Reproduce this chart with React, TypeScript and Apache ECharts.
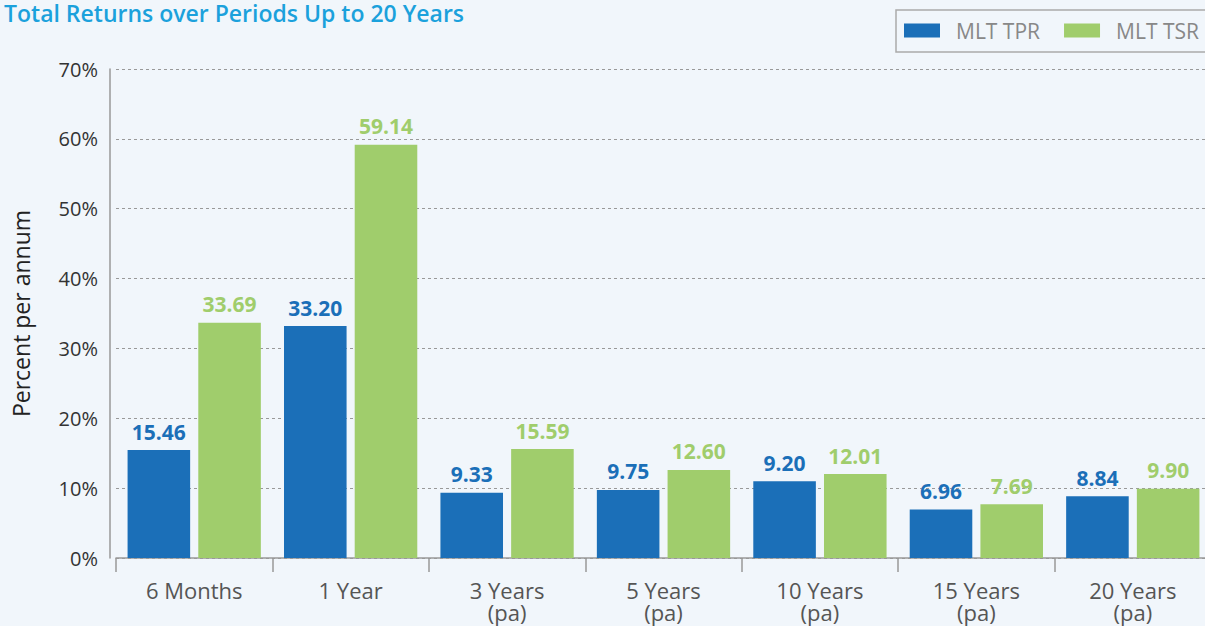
import React, { useEffect, useRef } from "react";
import * as echarts from "echarts";

const categories = [
  "6 Months",
  "1 Year",
  "3 Years\n(pa)",
  "5 Years\n(pa)",
  "10 Years\n(pa)",
  "15 Years\n(pa)",
  "20 Years\n(pa)",
];
const tprValues = [15.46, 33.2, 9.33, 9.75, 11.0, 6.96, 8.84];
const tprLabels = ["15.46", "33.20", "9.33", "9.75", "9.20", "6.96", "8.84"];
const tsrValues = [33.69, 59.14, 15.59, 12.6, 12.01, 7.69, 9.9];
const yTicks = [0, 10, 20, 30, 40, 50, 60, 70];

const TPR = "#1b6fb8";
const TSR = "#a0cd6c";
const FONT = "'Open Sans', 'Noto Sans', sans-serif";

export default function App() {
  const ref = useRef<HTMLDivElement>(null);
  useEffect(() => {
    document.body.style.margin = "0";
    const chart = echarts.init(ref.current!, null, { renderer: "svg" });
    chart.setOption({
      animation: false,
      backgroundColor: "#f1f6fb",
      textStyle: { fontFamily: FONT },
      title: {
        text: "Total Returns over Periods Up to 20 Years",
        left: 4,
        top: 1,
        padding: 0,
        textStyle: { fontSize: 23, fontWeight: 600, color: "#1ba1dc", fontFamily: FONT },
      },
      legend: {
        orient: "horizontal",
        left: 896,
        top: 10,
        width: 340,
        padding: [10, 20, 11, 8],
        borderColor: "#aaa",
        borderWidth: 1.5,
        itemWidth: 36,
        itemHeight: 14,
        itemGap: 24,
        icon: "rect",
        textStyle: { fontSize: 21, color: "#888", padding: [0, 0, 0, 11], fontFamily: FONT },
        data: ["MLT TPR", "MLT TSR"],
      },
      grid: {
        left: 116,
        right: -6,
        top: 69,
        bottom: 68,
        containLabel: false,
        outerBoundsMode: "none",
      },
      xAxis: {
        type: "category",
        data: categories,
        axisLine: { lineStyle: { color: "#999", width: 1.5 } },
        axisTick: { show: true, length: 14, lineStyle: { color: "#999", width: 1.5 } },
        axisLabel: { fontSize: 22, color: "#555", lineHeight: 22, margin: 21, fontFamily: FONT },
      },
      yAxis: {
        type: "value",
        min: yTicks[0],
        max: yTicks[yTicks.length - 1],
        interval: 10,
        offset: 6,
        name: "Percent per annum",
        nameLocation: "middle",
        nameRotate: 90,
        nameGap: 78,
        nameTextStyle: { fontSize: 23, color: "#222", fontFamily: FONT },
        axisLine: { show: true, lineStyle: { color: "#999", width: 1.5 } },
        axisTick: { show: false },
        axisLabel: { formatter: "{value}%", fontSize: 20, color: "#333", margin: 12, fontFamily: FONT },
        splitLine: { show: true, lineStyle: { color: "#999", type: [3, 3], width: 1 } },
      },
      series: [
        {
          name: "MLT TPR",
          type: "bar",
          data: tprValues,
          barWidth: "40%",
          barGap: "13%",
          itemStyle: { color: TPR },
          label: {
            show: true,
            position: "top",
            distance: 8,
            fontSize: 21,
            fontWeight: "bold",
            color: TPR,
            fontFamily: FONT,
            formatter: (p: any) => tprLabels[p.dataIndex],
          },
        },
        {
          name: "MLT TSR",
          type: "bar",
          data: tsrValues,
          barWidth: "40%",
          itemStyle: { color: TSR },
          label: {
            show: true,
            position: "top",
            distance: 8,
            fontSize: 21,
            fontWeight: "bold",
            color: TSR,
            fontFamily: FONT,
            formatter: (p: any) => Number(p.value).toFixed(2),
          },
        },
      ],
    });
    return () => chart.dispose();
  }, []);
  return <div ref={ref} style={{ width: 1205, height: 626 }} />;
}
